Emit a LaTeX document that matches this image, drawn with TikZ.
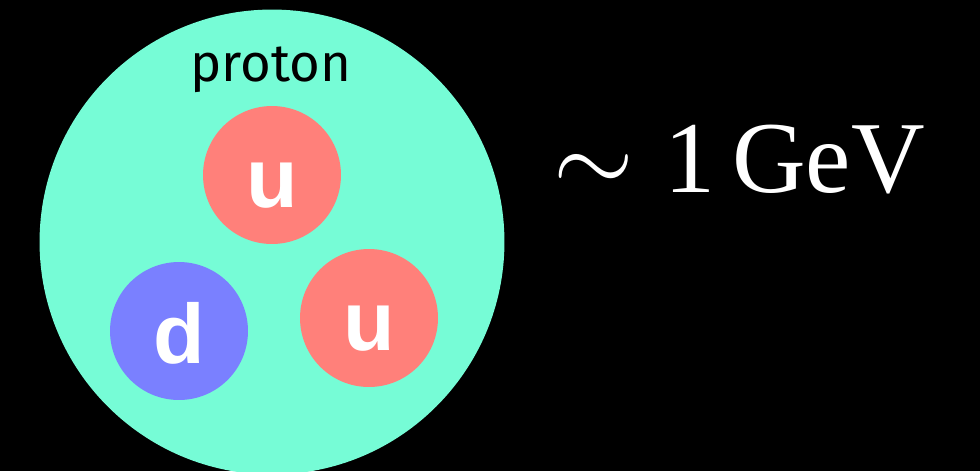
\documentclass[tikz,border=0pt]{standalone}
\usepackage{fontspec}
\setmainfont{Liberation Serif}
\newfontfamily\labelfont{Fira Sans}
\newfontfamily\quarkfont{Liberation Sans}
\usetikzlibrary{positioning}
\definecolor{protoncyan}{RGB}{118, 252, 214}
\definecolor{upred}{RGB}{255, 128, 122}
\definecolor{downblue}{RGB}{122, 128, 255}
\newcommand{\bigsim}{\scalebox{5.9}{\fontsize{10}{10}\selectfont$\sim$}}

\begin{document}
\begin{tikzpicture}[
        x=0.02cm, y=-0.02cm,
        quark/.style={circle, minimum size=2.76cm, inner sep=0pt, text=white,
                      text height=1.28cm, text depth=0pt,
                      font=\quarkfont\bfseries\fontsize{48}{48}\selectfont},
    ]
        \fill[black] (0,0) rectangle (980,471);
        \useasboundingbox (0,0) rectangle (980,471);
        \clip (0,0) rectangle (980,471);

        \node[circle, fill=protoncyan, minimum size=9.3cm, inner sep=0pt] (proton) at (272,242) {};
        \node[anchor=base, font=\labelfont\fontsize{30}{30}\selectfont] (name) at (271,81) {proton};

        \node[quark, fill=upred] (utop) at (272,175) {u};
        \node[quark, fill=downblue] (down) at (179,331) {d};
        \node[quark, fill=upred] (uright) at (369,318) {u};

        \node[anchor=base west, text=white, inner sep=0pt,
              font=\fontsize{58}{58}\selectfont] (energy) at (553,192) {\bigsim\hspace{0.3em}1\,GeV};
    \end{tikzpicture}
\end{document}
